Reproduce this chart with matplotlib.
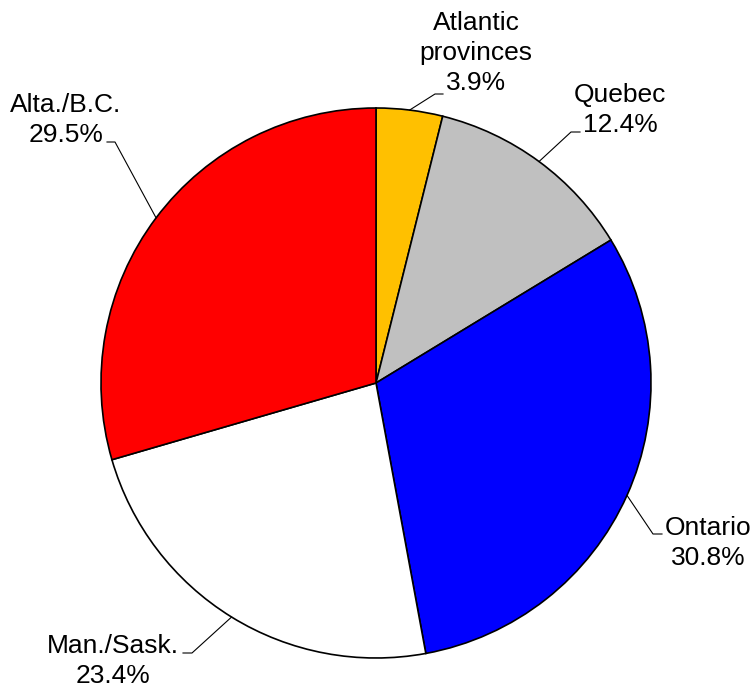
import numpy as np
import matplotlib.pyplot as plt

labels = ["Atlantic\nprovinces", "Quebec", "Ontario", "Man./Sask.", "Alta./B.C."]
shares = [3.9, 12.4, 30.8, 23.4, 29.5]
colors = ["#FFC000", "#C0C0C0", "#0000FF", "#FFFFFF", "#FF0000"]

# label placement in image pixels (x, y from top)
text_pos = [(476, 53), (620, 110), (708, 543), (113, 661), (66, 120)]
elbow = [(435, 94), (571, 132), (653, 534), (192, 653), (115, 142)]
line_end = [(443, 94), (580, 132), (662, 534), (183, 653), (107, 142)]

plt.rcParams["font.family"] = ["Liberation Sans", "DejaVu Sans"]

W, H = 754, 692
fig = plt.figure(figsize=(W / 100, H / 100), dpi=100)
ax = fig.add_axes([0, 0, 1, 1])

cx, cy, r = 376, H - 383, 275
ax.pie(shares, colors=colors, startangle=90, counterclock=False,
       center=(cx, cy), radius=r, frame=True,
       wedgeprops=dict(edgecolor="black", linewidth=1.2))
ax.set_xlim(0, W)
ax.set_ylim(0, H)
ax.axis("off")

# leader lines start at the middle of each wedge edge
cum = np.cumsum(shares) - np.array(shares) / 2
for i, lab in enumerate(labels):
    ang = np.deg2rad(90 - cum[i] / sum(shares) * 360)
    sx, sy = cx + r * np.cos(ang), cy + r * np.sin(ang)
    ex, ey = elbow[i]
    fx, fy = line_end[i]
    ax.plot([sx, ex, fx], [sy, H - ey, H - fy], color="black", lw=0.8)
    tx, ty = text_pos[i]
    ax.text(tx, H - ty, f"{lab}\n{shares[i]}%", ha="center", va="center",
            fontsize=19, linespacing=1.3)

fig.savefig("out.png", dpi=100)
